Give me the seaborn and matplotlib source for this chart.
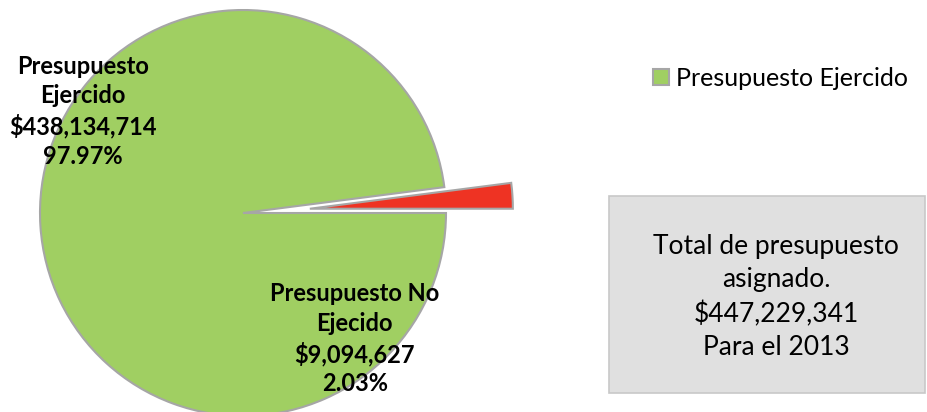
import matplotlib
matplotlib.use("Agg")
import matplotlib.pyplot as plt
import seaborn as sns
from matplotlib.patches import Rectangle

# ----------- DATOS ------------
categorias = ["Presupuesto No Ejecido", "Presupuesto Ejercido"]
montos = [9094627, 438134714]
porcentajes = ["2.03%", "97.97%"]
colores = ["#EE3323", "#A0CF62"]
total = "$447,229,341"
anio = "2013"

sns.set_theme(style="white")
plt.rcParams['font.family'] = ['Lato', 'DejaVu Sans']
plt.rcParams['text.color'] = 'black'

fig = plt.figure(figsize=(9.27, 4.12), dpi=100)
# pie centered at (243, 213) px, radius 203 px
ax = fig.add_axes([40 / 927, (412 - 213 - 203) / 412, 406 / 927, 406 / 412])

wedges, _ = ax.pie(montos, colors=colores, startangle=0, counterclock=True,
                   explode=[0.33, 0],
                   wedgeprops=dict(edgecolor="#A6A6A6", linewidth=1.5))
for w in wedges:
    w.set_clip_on(False)
ax.set_xlim(-1, 1)
ax.set_ylim(-1, 1)
ax.set_aspect("equal")
ax.axis("off")

# etiquetas de datos
ax.text(-0.79, 0.50,
        "Presupuesto\nEjercido\n${:,}\n{}".format(montos[1], porcentajes[1]),
        ha="center", va="center", fontsize=17, fontweight="bold",
        linespacing=1.33)
ax.text(0.55, -0.62,
        "Presupuesto No\nEjecido\n${:,}\n{}".format(montos[0], porcentajes[0]),
        ha="center", va="center", fontsize=17, fontweight="bold",
        linespacing=1.33)

# leyenda (solo la serie verde)
fig.legend(handles=[wedges[1]], labels=[categorias[1]],
           loc="center left", bbox_to_anchor=(653 / 927, 1 - 78 / 412),
           frameon=False, fontsize=18, handlelength=0.62, handleheight=0.62,
           handletextpad=0.3, borderpad=0, borderaxespad=0)

# cuadro de total
fig.patches.append(Rectangle((609 / 927, 19 / 412), 316 / 927, 197 / 412,
                             transform=fig.transFigure, facecolor="#E0E0E0",
                             edgecolor="#C8C8C8", linewidth=1.2))
fig.text(776 / 927, 1 - 297 / 412,
         "Total de presupuesto\nasignado.\n{}\nPara el {}".format(total, anio),
         ha="center", va="center", fontsize=19, linespacing=1.42)

fig.savefig("out.png", dpi=100)
